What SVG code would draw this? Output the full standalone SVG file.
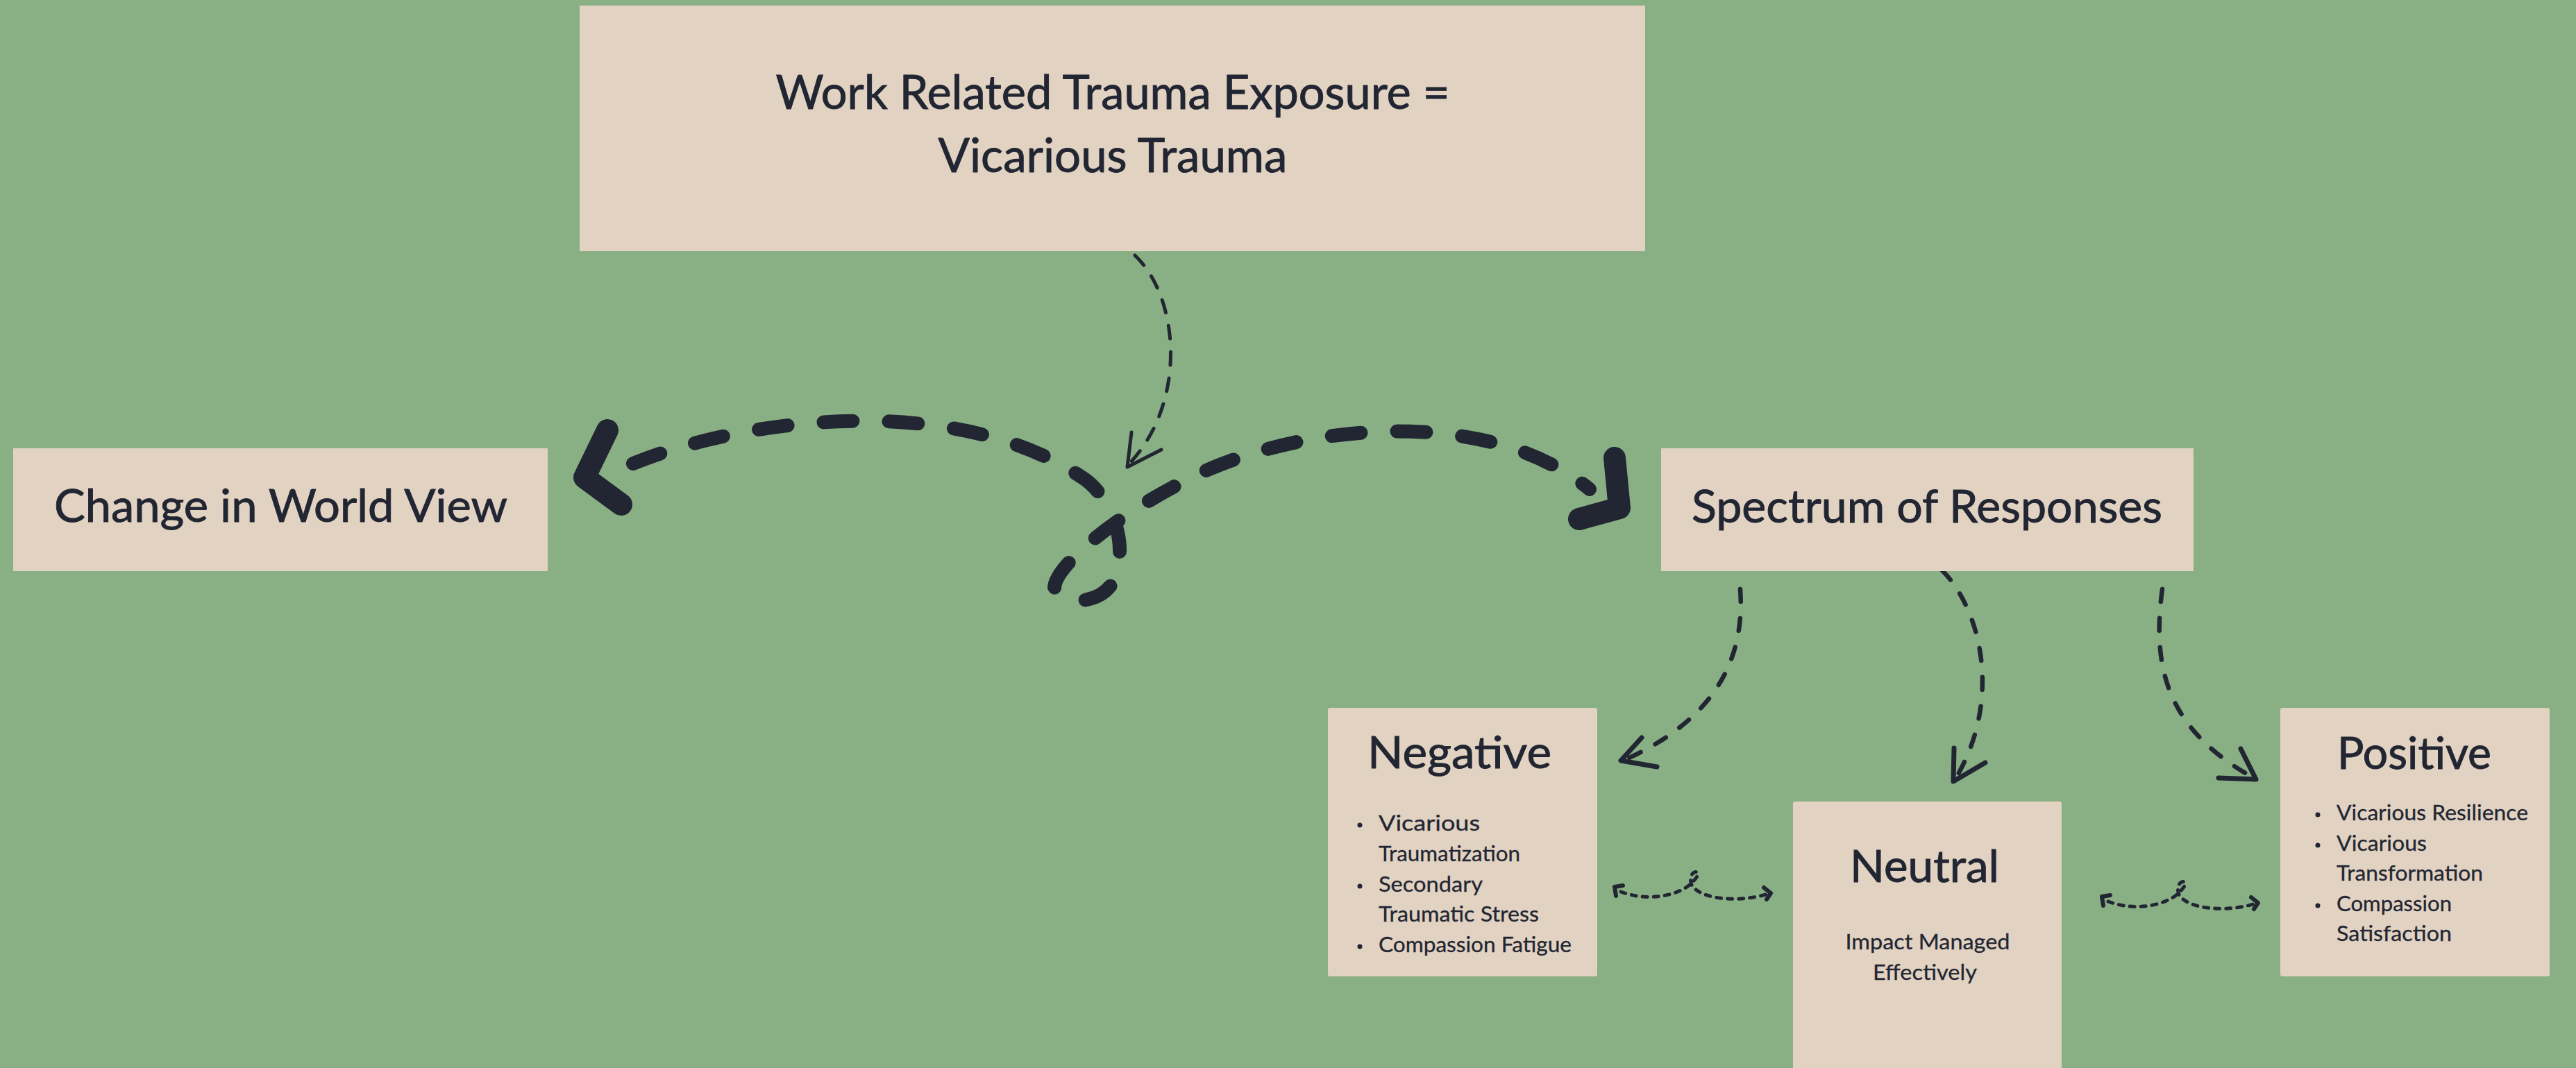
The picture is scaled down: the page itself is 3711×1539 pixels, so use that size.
<svg xmlns="http://www.w3.org/2000/svg" width="3711" height="1539" viewBox="0 0 3711 1539">
<defs>
<style>
.bg{fill:#89AF84}
.box{fill:#E1D2C1}
.t{font-family:Lato,"Liberation Sans",sans-serif;fill:#222633;stroke:#222633}
.title{font-size:68px;stroke-width:0.9}
.lbl{font-size:66px;stroke-width:0.9}
.h{font-size:64px;stroke-width:0.9}
.s{font-size:31px;stroke-width:0.3}
.dot{fill:#222633}
.thick{fill:none;stroke:#222633;stroke-width:20;stroke-linecap:round;stroke-linejoin:round;stroke-dasharray:42 52}
.head{fill:none;stroke:#222633;stroke-width:32;stroke-linecap:round;stroke-linejoin:round}
.thin{fill:none;stroke:#222633;stroke-width:5;stroke-linecap:round;stroke-dasharray:19 19}
.thinh{fill:none;stroke:#222633;stroke-width:5;stroke-linecap:round;stroke-linejoin:round}
.med{fill:none;stroke:#222633;stroke-width:6.5;stroke-linecap:round;stroke-dasharray:18 24}
.medh{fill:none;stroke:#222633;stroke-width:7;stroke-linecap:round;stroke-linejoin:round}
.sm{fill:none;stroke:#222633;stroke-width:5;stroke-linecap:round;stroke-dasharray:7 9}
.smh{fill:none;stroke:#222633;stroke-width:6;stroke-linecap:round;stroke-linejoin:round}
</style>
<g id="biarrow">
<path class="smh" d="M 12,-2 L 0,0 L 2,13"/>
<path class="sm" d="M 9,7 C 49,22 89,12 107,-2 C 115,-9 123,-18 119,-21 C 114,-24 105,-14 112,-1 C 129,20 184,22 221,10"/>
<path class="smh" d="M 215,1 L 225,9 L 219,18"/>
</g>
</defs>
<rect class="bg" x="0" y="0" width="3711" height="1539"/>

<g id="connectors">
<path class="thin" d="M 1635,368 C 1700,430 1710,580 1627,668"/>
<path class="thinh" d="M 1630,623 L 1624,673 L 1673,648"/>
<path class="thick" d="M 912,668 C 1080,600 1380,565 1562,690 C 1598,715 1628,780 1605,835 C 1592,868 1530,878 1519,846 C 1522,815 1600,750 1690,702 C 1840,615 2130,575 2290,705"/>
<path class="head" d="M 875,620 L 842,688 L 895,727"/>
<path class="head" d="M 2326,660 L 2333,732 L 2275,748"/>
<path class="med" d="M 2507,849 C 2515,960 2460,1040 2345,1093"/>
<path class="medh" d="M 2365,1063 L 2335,1096 L 2387,1105"/>
<path class="med" d="M 2798,822 C 2855,880 2885,1010 2816,1124"/>
<path class="medh" d="M 2815,1078 L 2814,1126 L 2860,1099"/>
<path class="med" d="M 3115,849 C 3100,960 3120,1050 3245,1120"/>
<path class="medh" d="M 3228,1079 L 3250,1123 L 3196,1121"/>
<use href="#biarrow" transform="translate(2326,1278)"/>
<use href="#biarrow" transform="translate(3028,1292)"/>
</g>

<g id="node-exposure">
<rect class="box" x="835" y="8" width="1535" height="354"/>
<text class="t title" x="1603" y="157" text-anchor="middle" textLength="971" lengthAdjust="spacingAndGlyphs">Work Related Trauma Exposure =</text>
<text class="t title" x="1603" y="248" text-anchor="middle" textLength="503" lengthAdjust="spacingAndGlyphs">Vicarious Trauma</text>
</g>

<g id="node-worldview">
<rect class="box" x="19" y="646" width="770" height="177"/>
<text class="t lbl" x="404.5" y="752" text-anchor="middle" textLength="653" lengthAdjust="spacingAndGlyphs">Change in World View</text>
</g>

<g id="node-spectrum">
<rect class="box" x="2393" y="646" width="767" height="177"/>
<text class="t lbl" x="2776" y="753" text-anchor="middle" textLength="678" lengthAdjust="spacingAndGlyphs">Spectrum of Responses</text>
</g>

<g id="node-negative">
<rect class="box" x="1913" y="1020" width="388" height="387" rx="3"/>
<text class="t h" x="2102.5" y="1107" text-anchor="middle" textLength="265" lengthAdjust="spacingAndGlyphs">Negative</text>
<circle class="dot" cx="1959" cy="1189" r="3.5"/>
<circle class="dot" cx="1959" cy="1277" r="3.5"/>
<circle class="dot" cx="1959" cy="1364" r="3.5"/>
<text class="t s" x="1986" y="1197" textLength="146" lengthAdjust="spacingAndGlyphs">Vicarious</text>
<text class="t s" x="1986" y="1241" textLength="204" lengthAdjust="spacingAndGlyphs">Traumatization</text>
<text class="t s" x="1986" y="1285" textLength="150" lengthAdjust="spacingAndGlyphs">Secondary</text>
<text class="t s" x="1986" y="1328" textLength="231" lengthAdjust="spacingAndGlyphs">Traumatic Stress</text>
<text class="t s" x="1986" y="1372" textLength="278" lengthAdjust="spacingAndGlyphs">Compassion Fatigue</text>
</g>

<g id="node-neutral">
<rect class="box" x="2583" y="1155" width="387" height="400" rx="3"/>
<text class="t h" x="2772.5" y="1271" text-anchor="middle" textLength="215" lengthAdjust="spacingAndGlyphs">Neutral</text>
<text class="t s" x="2777" y="1368" text-anchor="middle" textLength="237" lengthAdjust="spacingAndGlyphs">Impact Managed</text>
<text class="t s" x="2773" y="1412" text-anchor="middle" textLength="150" lengthAdjust="spacingAndGlyphs">Effectively</text>
</g>

<g id="node-positive">
<rect class="box" x="3285" y="1020" width="388" height="387" rx="3"/>
<text class="t h" x="3478" y="1108" text-anchor="middle" textLength="222" lengthAdjust="spacingAndGlyphs">Positive</text>
<circle class="dot" cx="3339" cy="1174" r="3.5"/>
<circle class="dot" cx="3339" cy="1218" r="3.5"/>
<circle class="dot" cx="3339" cy="1305" r="3.5"/>
<text class="t s" x="3366" y="1182" textLength="276" lengthAdjust="spacingAndGlyphs">Vicarious Resilience</text>
<text class="t s" x="3366" y="1226" textLength="130" lengthAdjust="spacingAndGlyphs">Vicarious</text>
<text class="t s" x="3366" y="1269" textLength="211" lengthAdjust="spacingAndGlyphs">Transformation</text>
<text class="t s" x="3366" y="1313" textLength="166" lengthAdjust="spacingAndGlyphs">Compassion</text>
<text class="t s" x="3366" y="1356" textLength="166" lengthAdjust="spacingAndGlyphs">Satisfaction</text>
</g>
</svg>
